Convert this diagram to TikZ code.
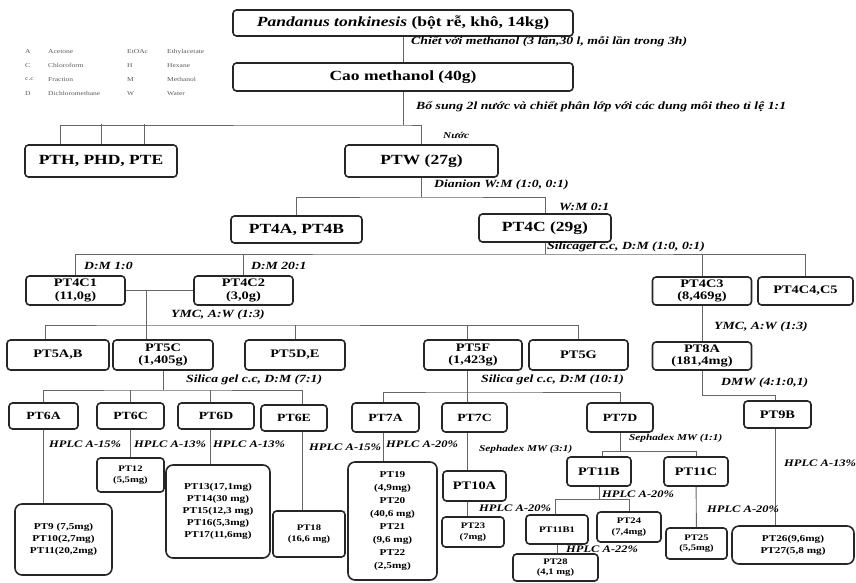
\documentclass[tikz,border=0pt]{standalone}
\usepackage{fontspec}
\setmainfont{Liberation Serif}[FakeStretch=1.25]

\begin{document}
\begin{tikzpicture}[x=1pt, y=-1pt,
  wh/.style 2 args={minimum width=#1, minimum height=#2},
  box/.style={draw=black!85, line width=1.6pt, rounded corners=3.5pt, align=center, inner sep=1pt},
  bigbox/.style={box, font=\bfseries\fontsize{14}{16}\selectfont},
  midbox/.style={box, font=\bfseries\fontsize{11.5}{12.5}\selectfont},
  lowbox/.style={box, font=\bfseries\fontsize{11}{12}\selectfont},
  listbox/.style={box, rounded corners=7pt, font=\bfseries\fontsize{9}{12}\selectfont},
  smallbox/.style={box, font=\bfseries\fontsize{8.5}{10.5}\selectfont},
  link/.style={draw=black!60, line width=0.9pt},
  lab/.style={anchor=west, inner sep=1pt, font=\bfseries\itshape\fontsize{11}{12}\selectfont},
  hlab/.style={lab, font=\bfseries\itshape\fontsize{10}{11}\selectfont},
  slab/.style={lab, font=\bfseries\itshape\fontsize{9}{10}\selectfont},
  keytext/.style={anchor=west, inner sep=0pt, text=black!65, font=\fontsize{6}{7}\selectfont}]
  \useasboundingbox (0,0) rectangle (856,582);

  % legend
  \foreach \ka/\na/\kb/\nb [count=\i] in {A/Acetone/EtOAc/Ethylacetate,
      C/Chloroform/H/Hexane, c.c/Fraction/M/Methanol, D/Dichloromethane/W/Water} {
    \node (ka\i) [keytext] at (25,38.3+13.7*\i) {\ka};
    \node (na\i) [keytext] at (48,38.3+13.7*\i) {\na};
    \node (kb\i) [keytext] at (127,38.3+13.7*\i) {\kb};
    \node (nb\i) [keytext] at (167,38.3+13.7*\i) {\nb};
  }

  % extraction
  \node (top) [bigbox, wh={340}{26}] at (403,23) {\textit{Pandanus tonkinesis} (bột rễ, khô, 14kg)};
  \node (cao) [bigbox, wh={340}{28}] at (403,77) {Cao methanol (40g)};
  \node (pth) [bigbox, wh={152}{32}] at (101,161) {PTH, PHD, PTE};
  \node (ptw) [bigbox, wh={153}{32}] at (421.5,161) {PTW (27g)};
  \node (pt4ab) [bigbox, wh={131}{27}] at (296.5,229.5) {PT4A, PT4B};
  \node (pt4c) [bigbox, wh={132}{28}] at (545,228) {PT4C (29g)};

  % fractions
  \node (pt4c1) [midbox, wh={99}{29}] at (75.5,290.5) {PT4C1\\(11,0g)};
  \node (pt4c2) [midbox, wh={99}{29}] at (243.5,290.5) {PT4C2\\(3,0g)};
  \node (pt4c3) [midbox, wh={99}{28}] at (702,291) {PT4C3\\(8,469g)};
  \node (pt4c45) [midbox, wh={95}{28}] at (805.5,291) {PT4C4,C5};
  \node (pt5ab) [midbox, wh={102}{30}] at (58,355) {PT5A,B};
  \node (pt5c) [midbox, wh={100}{30}] at (163,355) {PT5C\\(1,405g)};
  \node (pt5de) [midbox, wh={100}{30}] at (295,355) {PT5D,E};
  \node (pt5f) [midbox, wh={98}{30}] at (473,355) {PT5F\\(1,423g)};
  \node (pt5g) [midbox, wh={99}{30}] at (578.5,355) {PT5G};
  \node (pt8a) [midbox, wh={99}{28}] at (702,356) {PT8A\\(181,4mg)};
  \node (pt9b) [midbox, wh={67}{27}] at (777.5,414.5) {PT9B};
  \node (pt6a) [lowbox, wh={69}{26}] at (43.5,416) {PT6A};
  \node (pt6c) [lowbox, wh={67}{26}] at (130.5,416) {PT6C};
  \node (pt6d) [lowbox, wh={76}{26}] at (216,416) {PT6D};
  \node (pt6e) [lowbox, wh={66}{26}] at (294,418) {PT6E};
  \node (pt7a) [lowbox, wh={67}{29}] at (385.5,417.5) {PT7A};
  \node (pt7c) [lowbox, wh={65}{29}] at (474.5,417.5) {PT7C};
  \node (pt7d) [lowbox, wh={66}{29}] at (620,417.5) {PT7D};
  \node (pt10a) [midbox, wh={63}{30}] at (474.5,486) {PT10A};
  \node (pt11b) [midbox, wh={64}{29}] at (599,471.5) {PT11B};
  \node (pt11c) [midbox, wh={64}{29}] at (696,471.5) {PT11C};

  % compounds
  \node (pt9to11) [listbox, wh={97}{71}] at (63.5,539.5) {PT9 (7,5mg)\\PT10(2,7mg)\\PT11(20,2mg)};
  \node (pt13to17) [listbox, wh={104}{93}] at (218,511.5) {PT13(17,1mg)\\PT14(30 mg)\\PT15(12,3 mg)\\PT16(5,3mg)\\PT17(11,6mg)};
  \node (pt19to22) [listbox, wh={89}{118}, font=\bfseries\fontsize{9}{13}\selectfont] at (392.5,521) {PT19\\(4,9mg)\\PT20\\(40,6 mg)\\PT21\\(9,6 mg)\\PT22\\(2,5mg)};
  \node (pt26) [listbox, wh={122}{38}] at (793,545) {PT26(9,6mg)\\PT27(5,8 mg)};
  \node (pt12) [smallbox, wh={67}{34}] at (130.5,475) {PT12\\(5,5mg)};
  \node (pt18) [smallbox, wh={72}{46}] at (309,534) {PT18\\(16,6 mg)};
  \node (pt23) [smallbox, wh={62}{30}] at (473,532) {PT23\\(7mg)};
  \node (pt11b1) [smallbox, wh={62}{29}] at (557,529.5) {PT11B1};
  \node (pt24) [smallbox, wh={64}{30}] at (629,527) {PT24\\(7,4mg)};
  \node (pt28) [smallbox, wh={85}{27}] at (555.5,567.5) {PT28\\(4,1 mg)};
  \node (pt25) [smallbox, wh={61}{31}] at (696.5,543.5) {PT25\\(5,5mg)};

  % branch points
  \coordinate (b1) at (403,125);
  \coordinate (b2) at (421.5,197);
  \coordinate (b3) at (545,254);
  \coordinate (j5) at (146,290.5);
  \coordinate (b5) at (146,325);
  \coordinate (b6) at (163,390);
  \coordinate (b7) at (467,392);
  \coordinate (b8) at (620,451);
  \coordinate (b9) at (599,499);

  \draw[link] (top) -- (cao);
  \draw[link] (cao) -- (b1);
  \draw[link] ([xshift=-41pt]pth.north) |- (b1) -| (ptw.north);
  \draw[link] (pth.north) -- ++(0,-20);
  \draw[link] ([xshift=43pt]pth.north) -- ++(0,-20);
  \draw[link] (ptw) -- (b2);
  \draw[link] (pt4ab.north) |- (b2) -| (pt4c.north);
  \draw[link] (pt4c) -- (b3);
  \draw[link] (pt4c1.north) |- (b3) -| (pt4c45.north);
  \draw[link] (pt4c2.north) -- (pt4c2.north |- b3);
  \draw[link] (pt4c3.north) -- (pt4c3.north |- b3);
  \draw[link] (pt4c1) -- (pt4c2);
  \draw[link] (j5) -- (pt5c.north -| j5);
  \draw[link] ([xshift=-13pt]pt5ab.north) |- (b5) -| (pt5g.north);
  \draw[link] (pt5de.north) -- (pt5de.north |- b5);
  \draw[link] ([xshift=-6pt]pt5f.north) -- ([xshift=-6pt]pt5f.north |- b5);
  \draw[link] (pt4c3) -- (pt8a);
  \draw[link] (pt8a.south) -- ++(0,25) -| ([xshift=-2.5pt]pt9b.north);
  \draw[link] (pt5c) -- (b6);
  \draw[link] (pt6a.north) |- (b6) -| ([xshift=8pt]pt6e.north);
  \draw[link] (pt6c.north) -- (pt6c.north |- b6);
  \draw[link] ([xshift=-6pt]pt6d.north) -- ([xshift=-6pt]pt6d.north |- b6);
  \draw[link] ([xshift=-6pt]pt5f.south) -- (b7);
  \draw[link] ([xshift=-2.5pt]pt7a.north) |- (b7) -| (pt7d.north);
  \draw[link] ([xshift=-7.5pt]pt7c.north) -- (b7);
  \draw[link] (pt6a) -- (pt6a |- pt9to11.north);
  \draw[link] (pt6c) -- (pt12);
  \draw[link] ([xshift=-6pt]pt6d.south) -- ([xshift=-6pt]pt6d.south |- pt13to17.north);
  \draw[link] ([xshift=8pt]pt6e.south) -- ([xshift=8pt]pt6e.south |- pt18.north);
  \draw[link] ([xshift=-2.5pt]pt7a.south) -- ([xshift=-2.5pt]pt7a.south |- pt19to22.north);
  \draw[link] ([xshift=-7.5pt]pt7c.south) -- ([xshift=-7.5pt]pt7c.south |- pt10a.north);
  \draw[link] ([xshift=-7.5pt]pt10a.south) -- ([xshift=-7.5pt]pt10a.south |- pt23.north);
  \draw[link] (pt7d) -- (b8);
  \draw[link] ([xshift=3pt]pt11b.north) |- (b8) -| (pt11c.north);
  \draw[link] (pt11b) -- (b9);
  \draw[link] ([xshift=-2pt]pt11b1.north) |- (b9) -| (pt24.north);
  \draw[link] (pt11b1) -- (pt11b1 |- pt28.north);
  \draw[link] (pt11c) -- (pt25);
  \draw[link] ([xshift=-2.5pt]pt9b.south) -- ([xshift=-2.5pt]pt9b.south |- pt26.north);

  % conditions
  \node (lchiet) [lab] at (410,42) {Chiết với methanol (3 lần,30 l, mỗi lần trong 3h)};
  \node (lbosung) [lab] at (415,107) {Bổ sung 2l nước và chiết phân lớp với các dung môi theo tỉ lệ 1:1};
  \node (lnuoc) [slab] at (442,135) {Nước};
  \node (ldianion) [lab] at (433,185) {Dianion W:M (1:0, 0:1)};
  \node (lwm) [lab] at (558,207) {W:M 0:1};
  \node (lsilicagel) [lab] at (546,247) {Silicagel c.c, D:M (1:0, 0:1)};
  \node (ldm1) [lab] at (83,266) {D:M 1:0};
  \node (ldm2) [lab] at (250,266) {D:M 20:1};
  \node (lymc1) [lab] at (170,315) {YMC, A:W (1:3)};
  \node (lymc2) [lab] at (713,327) {YMC, A:W (1:3)};
  \node (lsil1) [lab] at (185,380) {Silica gel c.c, D:M (7:1)};
  \node (lsil2) [lab] at (480,380) {Silica gel c.c, D:M (10:1)};
  \node (ldmw) [lab] at (720,383) {DMW (4:1:0,1)};
  \node (lhplc6a) [hlab] at (48,444) {HPLC A-15\%};
  \node (lhplc6c) [hlab] at (133,444) {HPLC A-13\%};
  \node (lhplc6d) [hlab] at (212,444) {HPLC A-13\%};
  \node (lhplc6e) [hlab] at (308,447) {HPLC A-15\%};
  \node (lhplc7a) [hlab] at (385,444) {HPLC A-20\%};
  \node (lseph7c) [slab] at (478,449) {Sephadex MW (3:1)};
  \node (lseph7d) [slab] at (628,438) {Sephadex MW (1:1)};
  \node (lhplc9b) [hlab] at (783,463) {HPLC A-13\%};
  \node (lhplc10a) [hlab] at (478,508) {HPLC A-20\%};
  \node (lhplc11b) [hlab] at (601,494) {HPLC A-20\%};
  \node (lhplc11c) [hlab] at (706,509) {HPLC A-20\%};
  \node (lhplc11b1) [hlab] at (565,549) {HPLC A-22\%};
\end{tikzpicture}
\end{document}
